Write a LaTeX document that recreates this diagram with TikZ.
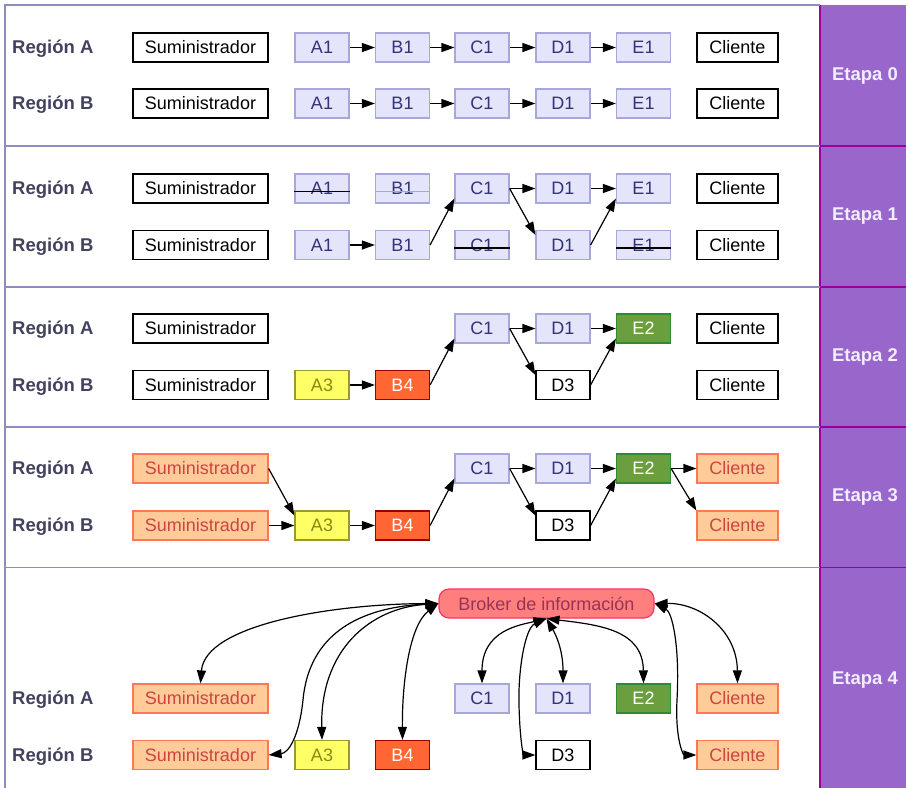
\documentclass[tikz,border=0pt]{standalone}
\usepackage{fontspec}
\setmainfont{Liberation Sans}
\usetikzlibrary{arrows.meta,calc}

\definecolor{frameline}{HTML}{8C8CBF}
\definecolor{colfill}{HTML}{9966CC}
\definecolor{colline}{HTML}{990099}
\definecolor{regtext}{HTML}{42425F}
\definecolor{etapatext}{HTML}{F0EEFF}
\definecolor{lavfill}{HTML}{E4E4FA}
\definecolor{lavline}{HTML}{A8A8D8}
\definecolor{lavtext}{HTML}{333377}
\definecolor{yelfill}{HTML}{FFFF66}
\definecolor{yelline}{HTML}{999933}
\definecolor{yeltext}{HTML}{8A8A10}
\definecolor{redfill}{HTML}{FF6633}
\definecolor{redline}{HTML}{990000}
\definecolor{grnfill}{HTML}{6B9E3F}
\definecolor{grnline}{HTML}{2E8B2E}
\definecolor{orgfill}{HTML}{FFCC99}
\definecolor{orgline}{HTML}{FF7755}
\definecolor{orgtext}{HTML}{CC4444}
\definecolor{brkfill}{HTML}{FF7F7F}
\definecolor{brkline}{HTML}{FF3366}
\definecolor{brktext}{HTML}{993355}

\begin{document}
\begin{tikzpicture}[x=1pt,y=-1pt,
  box/.style={draw, line width=1.2pt, minimum width=54pt, minimum height=29pt,
    inner sep=0pt, font=\fontsize{18}{20}\selectfont},
  wide/.style={minimum width=135pt},
  cli/.style={minimum width=81pt},
  plain/.style={box, fill=white, draw=black, text=black},
  lav/.style={box, fill=lavfill, draw=lavline, text=lavtext},
  yel/.style={box, fill=yelfill, draw=yelline, text=yeltext},
  redbox/.style={box, fill=redfill, draw=redline, text=white},
  grn/.style={box, fill=grnfill, draw=grnline, text=white},
  org/.style={box, fill=orgfill, draw=orgline, text=orgtext},
  broker/.style={draw=brkline, fill=brkfill, text=brktext, line width=1.2pt,
    rounded corners=10pt, minimum width=215pt, minimum height=29pt, inner sep=0pt,
    font=\fontsize{18}{20}\selectfont},
  reg/.style={anchor=west, text=regtext, inner sep=0pt, yshift=-1.5pt,
    font=\fontsize{18.5}{20}\selectfont\bfseries},
  etapa/.style={text=etapatext, inner sep=0pt,
    font=\fontsize{18.5}{20}\selectfont\bfseries},
  flow/.style={draw=black, line width=1.2pt, -{Triangle[length=13pt,width=9pt]}},
  link/.style={draw=black, line width=1.2pt,
    {Triangle[length=13pt,width=9pt]}-{Triangle[length=13pt,width=9pt]}},
  strike/.style={line width=1.2pt}
]
\useasboundingbox (0,0) rectangle (906,788);

% frame and stage column
\fill[colfill] (820,5) rectangle (906,788);
\draw[colline, line width=1.2pt] (820,5) -- (820,788);
\draw[frameline, line width=1.5pt] (5,788) -- (5,5) -- (820,5);
\foreach \y in {146,287,427,567.5} {
  \draw[frameline, line width=1.5pt] (5,\y) -- (820,\y);
  \draw[colline, line width=1.5pt] (820,\y) -- (906,\y);
}

% stage labels
\node[etapa] (et0) at (865,75.5) {Etapa 0};
\node[etapa] (et1) at (865,216.5) {Etapa 1};
\node[etapa] (et2) at (865,357) {Etapa 2};
\node[etapa] (et3) at (865,497) {Etapa 3};
\node[etapa] (et4) at (865,680) {Etapa 4};

% ---------- Etapa 0 ----------
\node[reg] (r0a) at (12,47.5) {Región A};
\node[reg] (r0b) at (12,103.5) {Región B};
\foreach \r/\y in {a/47.5,b/103.5} {
  \node[plain,wide] (s0sum\r) at (200.5,\y) {Suministrador};
  \node[lav] (s0a\r) at (322,\y) {A1};
  \node[lav] (s0b\r) at (402.5,\y) {B1};
  \node[lav] (s0c\r) at (482,\y) {C1};
  \node[lav] (s0d\r) at (563,\y) {D1};
  \node[lav] (s0e\r) at (643.5,\y) {E1};
  \node[plain,cli] (s0cl\r) at (737.5,\y) {Cliente};
  \draw[flow] (s0a\r) -- (s0b\r);
  \draw[flow] (s0b\r) -- (s0c\r);
  \draw[flow] (s0c\r) -- (s0d\r);
  \draw[flow] (s0d\r) -- (s0e\r);
}

% ---------- Etapa 1 ----------
\node[reg] (r1a) at (12,188.5) {Región A};
\node[reg] (r1b) at (12,245) {Región B};
\foreach \r/\y in {a/188.5,b/245} {
  \node[plain,wide] (s1sum\r) at (200.5,\y) {Suministrador};
  \node[lav] (s1a\r) at (322,\y) {A1};
  \node[lav] (s1b\r) at (402.5,\y) {B1};
  \node[lav] (s1c\r) at (482,\y) {C1};
  \node[lav] (s1d\r) at (563,\y) {D1};
  \node[lav] (s1e\r) at (643.5,\y) {E1};
  \node[plain,cli] (s1cl\r) at (737.5,\y) {Cliente};
}
\draw[strike, black] ($(s1aa.west)+(0,3)$) -- ($(s1aa.east)+(0,3)$);
\draw[strike, lavline] ($(s1ba.west)+(0,3)$) -- ($(s1ba.east)+(0,3)$);
\draw[strike, black] ($(s1cb.west)+(0,3)$) -- ($(s1cb.east)+(0,3)$);
\draw[strike, black] ($(s1eb.west)+(0,3)$) -- ($(s1eb.east)+(0,3)$);
\draw[flow] (s1ab) -- (s1bb);
\draw[flow] (s1bb.east) -- (s1ca.200);
\draw[flow] (s1ca) -- (s1da);
\draw[flow] (s1ca.east) -- (s1db.160);
\draw[flow] (s1da) -- (s1ea);
\draw[flow] (s1db.east) -- (s1ea.200);

% ---------- Etapa 2 ----------
\node[reg] (r2a) at (12,328.5) {Región A};
\node[reg] (r2b) at (12,385) {Región B};
\node[plain,wide] (s2suma) at (200.5,328.5) {Suministrador};
\node[plain,wide] (s2sumb) at (200.5,385) {Suministrador};
\node[yel] (s2a3) at (322,385) {A3};
\node[redbox] (s2b4) at (402.5,385) {B4};
\node[lav] (s2c1) at (482,328.5) {C1};
\node[lav] (s2d1) at (563,328.5) {D1};
\node[plain] (s2d3) at (563,385) {D3};
\node[grn] (s2e2) at (643.5,328.5) {E2};
\node[plain,cli] (s2cla) at (737.5,328.5) {Cliente};
\node[plain,cli] (s2clb) at (737.5,385) {Cliente};
\draw[flow] (s2a3) -- (s2b4);
\draw[flow] (s2b4.east) -- (s2c1.200);
\draw[flow] (s2c1) -- (s2d1);
\draw[flow] (s2c1.east) -- (s2d3.160);
\draw[flow] (s2d1) -- (s2e2);
\draw[flow] (s2d3.east) -- (s2e2.200);

% ---------- Etapa 3 ----------
\node[reg] (r3a) at (12,468.5) {Región A};
\node[reg] (r3b) at (12,525.5) {Región B};
\node[org,wide] (s3suma) at (200.5,468.5) {Suministrador};
\node[org,wide] (s3sumb) at (200.5,525.5) {Suministrador};
\node[yel] (s3a3) at (322,525.5) {A3};
\node[redbox] (s3b4) at (402.5,525.5) {B4};
\node[lav] (s3c1) at (482,468.5) {C1};
\node[lav] (s3d1) at (563,468.5) {D1};
\node[plain] (s3d3) at (563,525.5) {D3};
\node[grn] (s3e2) at (643.5,468.5) {E2};
\node[org,cli] (s3cla) at (737.5,468.5) {Cliente};
\node[org,cli] (s3clb) at (737.5,525.5) {Cliente};
\draw[flow] (s3suma.east) -- (s3a3.160);
\draw[flow] (s3sumb) -- (s3a3);
\draw[flow] (s3a3) -- (s3b4);
\draw[flow] (s3b4.east) -- (s3c1.200);
\draw[flow] (s3c1) -- (s3d1);
\draw[flow] (s3c1.east) -- (s3d3.160);
\draw[flow] (s3d1) -- (s3e2);
\draw[flow] (s3d3.east) -- (s3e2.200);
\draw[flow] (s3e2) -- (s3cla);
\draw[flow] (s3e2.east) -- (s3clb.160);

% ---------- Etapa 4 ----------
\node[reg] (r4a) at (12,698.5) {Región A};
\node[reg] (r4b) at (12,755) {Región B};
\node[broker] (brk) at (546.5,603.5) {Broker de información};
\node[org,wide] (s4suma) at (200.5,698.5) {Suministrador};
\node[org,wide] (s4sumb) at (200.5,755) {Suministrador};
\node[yel] (s4a3) at (322,755) {A3};
\node[redbox] (s4b4) at (402.5,755) {B4};
\node[lav] (s4c1) at (482,698.5) {C1};
\node[lav] (s4d1) at (563,698.5) {D1};
\node[plain] (s4d3) at (563,755) {D3};
\node[grn] (s4e2) at (643.5,698.5) {E2};
\node[org,cli] (s4cla) at (737.5,698.5) {Cliente};
\node[org,cli] (s4clb) at (737.5,755) {Cliente};

\draw[link] (brk.west) .. controls (330,604) and (205,625) .. (s4suma.north);
\draw[link] (brk.west) .. controls (345,608) and (308,645) .. (303,700)
  .. controls (299,738) and (288,753) .. (s4sumb.east);
\draw[link] (brk.west) .. controls (370,608) and (320,650) .. (s4a3.north);
\draw[link] (brk.west) .. controls (410,625) and (402,680) .. (s4b4.north);
\draw[link] (brk.south) .. controls (520,625) and (482,630) .. (s4c1.north);
\draw[link] (brk.south) .. controls (525,628) and (518,670) .. (519,705)
  .. controls (520,745) and (524,755) .. (s4d3.west);
\draw[link] (brk.south) .. controls (556,635) and (563,650) .. (s4d1.north);
\draw[link] (brk.south) .. controls (600,625) and (643,630) .. (s4e2.north);
\draw[link] (brk.east) .. controls (700,603) and (737,630) .. (s4cla.north);
\draw[link] (brk.east) .. controls (672,612) and (680,645) .. (677,700)
  .. controls (675,742) and (684,755) .. (s4clb.west);
\end{tikzpicture}
\end{document}
